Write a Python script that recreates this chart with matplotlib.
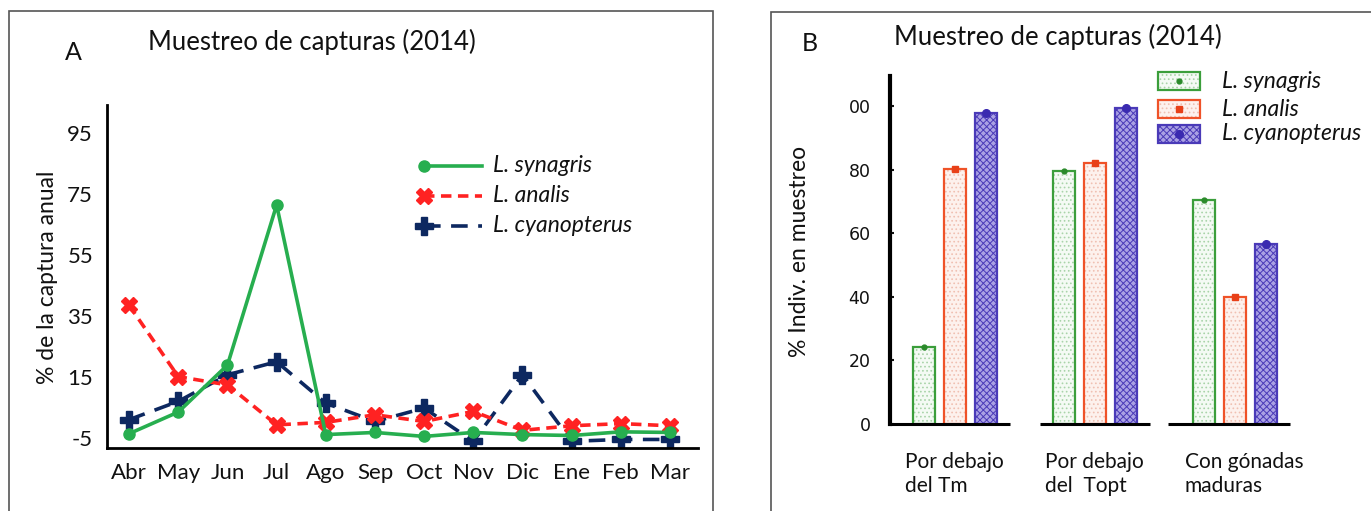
import matplotlib
matplotlib.use('Agg')
import matplotlib.pyplot as plt
from matplotlib.patches import Rectangle
from matplotlib.lines import Line2D
import numpy as np

plt.rcParams['font.family'] = ['Lato', 'DejaVu Sans']
plt.rcParams['hatch.linewidth'] = 0.7
plt.rcParams['axes.unicode_minus'] = False

# --- panel A: monthly share of the annual catch ---
months = ['Abr', 'May', 'Jun', 'Jul', 'Ago', 'Sep', 'Oct', 'Nov', 'Dic', 'Ene', 'Feb', 'Mar']
synagris = [-3.6, 3.5, 18.9, 71.4, -3.9, -3.2, -4.5, -3.2, -3.9, -4.2, -3.0, -3.2]
analis = [38.5, 15.1, 12.4, -0.7, 0.1, 2.6, 0.4, 3.7, -2.5, -1.0, -0.3, -1.0]
cyanopterus = [1.0, 7.0, 15.7, 20.0, 6.4, 0.4, 4.8, -6.1, 15.7, -6.1, -5.5, -5.5]
yticks_a = [-5, 15, 35, 55, 75, 95]

# --- panel B: % of sampled individuals ---
groups = ['Por debajo\ndel Tm', 'Por debajo\ndel  Topt', 'Con gónadas\nmaduras']
species = ['L. synagris', 'L. analis', 'L. cyanopterus']
pct_synagris = [24.2, 79.6, 70.4]
pct_analis = [80.2, 82.1, 39.9]
pct_cyanopterus = [98.0, 99.6, 56.8]
yticks_b = [0, 20, 40, 60, 80, 100]
yticklabels_b = ['0', '20', '40', '60', '80', '00']

W, H = 1371, 511


def fx(x):
    return x / W


def fy(y):
    return 1 - y / H


fig = plt.figure(figsize=(W / 100, H / 100), dpi=100)

# panel frames
fig.add_artist(Rectangle((fx(9), fy(540)), fx(713) - fx(9), fy(11) - fy(540),
                         fill=False, ec='#555555', lw=1.2, transform=fig.transFigure))
fig.add_artist(Rectangle((fx(771), fy(540)), fx(1420) - fx(771), fy(12) - fy(540),
                         fill=False, ec='#555555', lw=1.2, transform=fig.transFigure))

# ================= panel A =================
ax1 = fig.add_axes([fx(107), fy(448), fx(698) - fx(107), fy(105) - fy(448)])
x = np.arange(len(months))

green = '#27ae4f'
red = '#ff2222'
navy = '#0d2860'

ax1.plot(x, cyanopterus, color=navy, lw=2.6, dashes=(4.6, 2.9), marker='P',
         ms=13, mec=navy, zorder=2)
ax1.plot(x, analis, color=red, lw=2.6, dashes=(2.9, 1.8), marker='X',
         ms=11, mec=red, zorder=3)
ax1.plot(x, synagris, color=green, lw=2.6, marker='o', ms=8, zorder=4)

ax1.set_xlim(-0.45, 11.57)
ax1.set_ylim(-8.3, 104.2)
ax1.set_xticks(x)
ax1.set_xticklabels(months)
ax1.set_yticks(yticks_a)
ax1.tick_params(length=0, labelsize=16, colors='#111111')
ax1.tick_params(axis='x', pad=11)
ax1.tick_params(axis='y', pad=10)
for s in ['top', 'right']:
    ax1.spines[s].set_visible(False)
for s in ['left', 'bottom']:
    ax1.spines[s].set_linewidth(2.0)
    ax1.spines[s].set_color('black')

# legend A drawn by hand: marker at the left end of the sample line
leg_rows = [(166, green, '-', 'o', 8),
            (196, red, (0, (2.9, 1.8)), 'X', 11),
            (226, navy, (0, (4.6, 2.9)), 'P', 13)]
for (yy, col, ls, mk, ms), name in zip(leg_rows, species):
    fig.add_artist(Line2D([fx(424), fx(482)], [fy(yy), fy(yy)], color=col, lw=2.6,
                          ls=ls, transform=fig.transFigure))
    fig.add_artist(Line2D([fx(424)], [fy(yy)], color=col, marker=mk, ms=ms,
                          transform=fig.transFigure))
    fig.text(fx(493), fy(yy), name, fontsize=16.5, style='italic', va='center',
             ha='left', color='#111111')

fig.text(fx(148), fy(42), 'Muestreo de capturas (2014)', fontsize=18.5, va='center',
         ha='left', color='#111111')
fig.text(fx(65), fy(53), 'A', fontsize=18, va='center', ha='left', color='#111111')
fig.text(fx(48), fy(277), '% de la captura anual', fontsize=16.5, rotation=90,
         va='center', ha='center', color='#111111')

# ================= panel B =================
ax2 = fig.add_axes([fx(890), fy(424), fx(1300) - fx(890), fy(76) - fy(424)])
xg = np.arange(len(groups))
off = 0.221
bw = 0.157

bar_styles = [
    (pct_synagris, '#f4faf4', '#a9d4a9', '#3b9e3b', 'o', 3.5, '#2a8a2a', '....'),
    (pct_analis, '#fdf1ed', '#f0c0b2', '#ef5228', 's', 5, '#e84018', '....'),
    (pct_cyanopterus, '#aaa1e4', '#4a3ab8', '#4a3ab8', 'o', 5.5, '#3a2ab0', 'xxxxx'),
]
for i, (vals, fc, hc, ec, mk, ms, mc, ht) in enumerate(bar_styles):
    pos = xg + (i - 1) * off
    ax2.bar(pos, vals, bw, color=fc, edgecolor=hc, lw=0, hatch=ht, zorder=2)
    ax2.bar(pos, vals, bw, fill=False, edgecolor=ec, lw=1.6, zorder=3)
    ax2.plot(pos, vals, ls='none', marker=mk, ms=ms, color=mc, zorder=4)

ax2.set_xlim(-0.464, 2.464)
ax2.set_ylim(0, 109.6)
ax2.set_yticks(yticks_b)
ax2.set_yticklabels(yticklabels_b)
ax2.set_xticks([])
ax2.tick_params(axis='y', direction='in', length=3, width=1.5, labelsize=12.5,
                pad=14, colors='#111111')
for lab in ax2.get_yticklabels():
    lab.set_family('DejaVu Sans')
for s in ['top', 'right', 'bottom']:
    ax2.spines[s].set_visible(False)
ax2.spines['left'].set_linewidth(3.0)
ax2.spines['left'].set_color('black')

# separate baselines under each group
base_start = [-0.464, -0.39, -0.48]
for g, st in zip(xg, base_start):
    ax2.plot([g + st, g + 0.39], [0, 0], color='black', lw=2.2,
             solid_capstyle='butt', clip_on=False, zorder=5)

for g, lab in zip(xg, groups):
    ax2.text(g - 0.36, -0.08, lab, transform=ax2.get_xaxis_transform(), ha='left',
             va='top', fontsize=15, color='#111111', linespacing=1.25)

# legend B
leg_b = [(81, '#f4faf4', '#a9d4a9', '#3b9e3b', 'o', 3.5, '#2a8a2a', '....'),
         (109, '#fdf1ed', '#f0c0b2', '#ef5228', 's', 5, '#e84018', '....'),
         (134, '#aaa1e4', '#4a3ab8', '#4a3ab8', 'o', 5.5, '#3a2ab0', 'xxxxx')]
for (yy, fc, hc, ec, mk, ms, mc, ht), name in zip(leg_b, species):
    fig.add_artist(Rectangle((fx(1158), fy(yy + 9)), fx(1200) - fx(1158), fy(yy - 9) - fy(yy + 9),
                             facecolor=fc, edgecolor=hc, lw=0, hatch=ht,
                             transform=fig.transFigure))
    fig.add_artist(Rectangle((fx(1158), fy(yy + 9)), fx(1200) - fx(1158), fy(yy - 9) - fy(yy + 9),
                             fill=False, edgecolor=ec, lw=1.6, transform=fig.transFigure))
    fig.add_artist(Line2D([fx(1179)], [fy(yy)], marker=mk, ms=ms, color=mc,
                          transform=fig.transFigure))
    fig.text(fx(1222), fy(yy), name, fontsize=16.5, style='italic', va='center',
             ha='left', color='#111111')

fig.text(fx(894), fy(37), 'Muestreo de capturas (2014)', fontsize=18.5, va='center',
         ha='left', color='#111111')
fig.text(fx(802), fy(43), 'B', fontsize=18, va='center', ha='left', color='#111111')
fig.text(fx(799), fy(251), '% Indiv. en muestreo', fontsize=16.5, rotation=90,
         va='center', ha='center', color='#111111')

fig.savefig('out.png', dpi=100)
